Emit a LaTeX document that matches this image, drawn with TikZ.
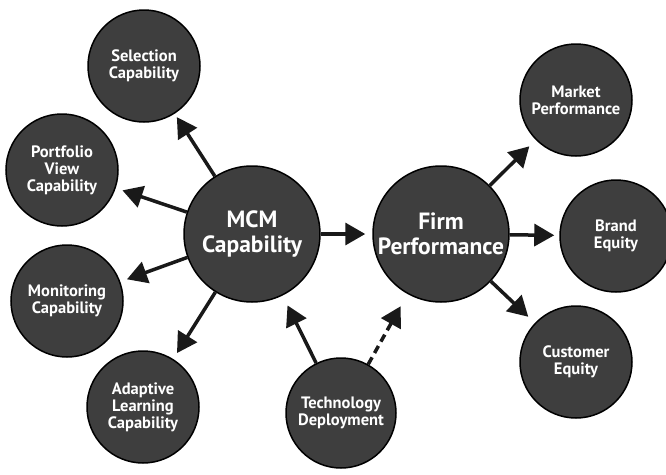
\documentclass[tikz,border=0pt]{standalone}
\usepackage{fontspec}
\setsansfont{PT Sans}
\usetikzlibrary{arrows.meta}
\definecolor{disc}{RGB}{62,62,62}
\definecolor{ink}{RGB}{25,25,25}
\tikzset{
  bub/.style={circle, draw=black, line width=1.5pt, fill=disc, text=white,
    align=center, inner sep=0pt, minimum size=112pt,
    font=\sffamily\bfseries\fontsize{16.5}{17}\selectfont},
  big/.style={bub, minimum size=136pt,
    font=\sffamily\bfseries\fontsize{23.5}{24.5}\selectfont},
  arr/.style={draw=ink, line width=3.5pt,
    -{Triangle[length=20pt,width=22pt]}, shorten >=7pt},
  darr/.style={arr, dash pattern=on 8pt off 5pt}
}
\begin{document}
\begin{tikzpicture}[x=1pt,y=-1pt]
\useasboundingbox (0,0) rectangle (666,474);
\node[big] (mcm)  at (252,234) {MCM\\Capability};
\node[big] (firm) at (441,234) {Firm\\Performance};
\node[bub] (sel)  at (144,66)  {Selection\\Capability};
\node[bub] (port) at (62,170)  {Portfolio\\View\\Capability};
\node[bub] (mon)  at (67,301)  {Monitoring\\Capability};
\node[bub] (adap) at (143,407) {Adaptive\\Learning\\Capability};
\node[bub, minimum size=110pt] (tech) at (341,413) {Technology\\Deployment};
\node[bub] (mkt)  at (576,100) {Market\\Performance};
\node[bub] (brand) at (616,236) {Brand\\Equity};
\node[bub] (cust) at (576,362) {Customer\\Equity};
\draw[arr, shorten >=4pt] (mcm) -- (sel);
\draw[arr] (mcm) -- (port);
\draw[arr] (mcm) -- (mon);
\draw[arr] (mcm) -- (adap);
\draw[arr] (mcm) -- (firm);
\draw[arr, shorten >=9pt] (firm) -- (mkt);
\draw[arr, shorten >=5pt] (firm) -- (brand);
\draw[arr, shorten >=9pt] (firm) -- (cust);
\draw[arr, shorten >=11pt] (tech) -- (mcm);
\draw[darr, shorten >=14pt] (tech) -- (firm);
\end{tikzpicture}
\end{document}
